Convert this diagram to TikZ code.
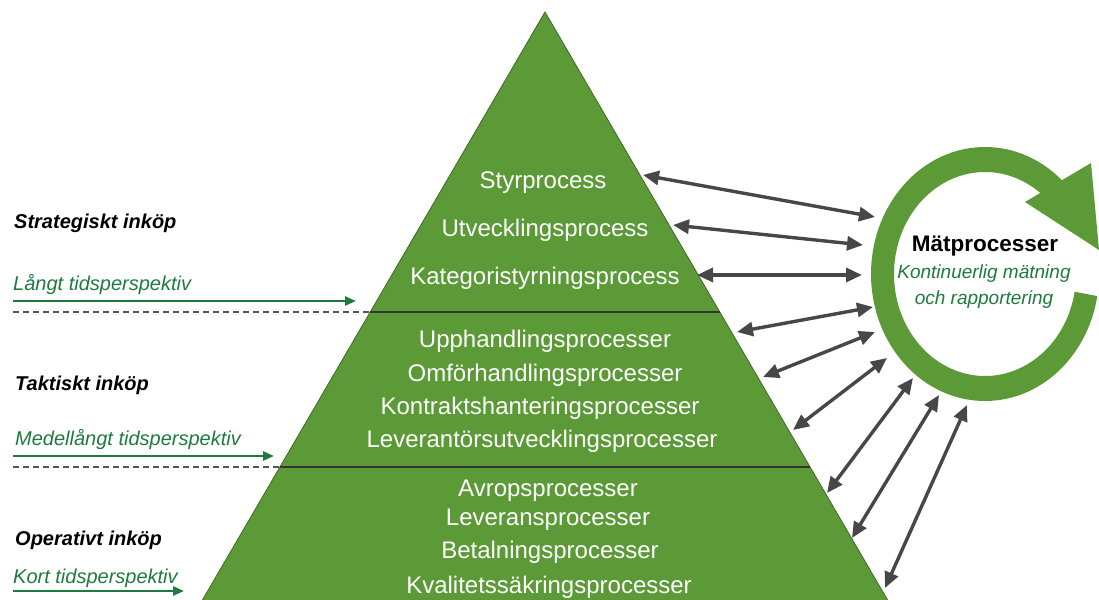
\documentclass[tikz,border=0pt]{standalone}
\usepackage{fontspec}
\setmainfont{Liberation Sans}
\usetikzlibrary{arrows.meta,calc}
\definecolor{leaf}{HTML}{5B9A36}
\definecolor{leafedge}{HTML}{3F6B26}
\definecolor{txtgreen}{HTML}{1E7A3E}
\definecolor{arrowgray}{HTML}{474747}
\definecolor{dashgray}{HTML}{555555}

\tikzset{
  ptext/.style={text=white, font=\fontsize{24}{28}\selectfont, anchor=base, inner sep=0pt},
  lvl/.style={text=black, font=\fontsize{20}{24}\selectfont\bfseries\itshape, anchor=base west, inner sep=0pt},
  horizon/.style={text=txtgreen, font=\fontsize{20}{24}\selectfont\itshape, anchor=base west, inner sep=0pt},
  timearrow/.style={draw=txtgreen, line width=2.5pt, -{Triangle[length=11pt,width=9pt]}},
  levelsep/.style={draw=dashgray, line width=1.2pt, dash pattern=on 6pt off 4pt},
  divider/.style={draw=black!80, line width=1.3pt},
  link/.style={draw=arrowgray, line width=3.4pt, {Triangle[length=16pt,width=14pt]}-{Triangle[length=16pt,width=14pt]}},
}

\begin{document}
\begin{tikzpicture}[x=1pt,y=1pt]
\useasboundingbox (0,0) rectangle (1099,-599);
\clip (0,0) rectangle (1099,-599);

% pyramid
\coordinate (apex) at (545,-12);
\coordinate (bl) at (199.5,-605);
\coordinate (br) at (890.5,-605);
\fill[leaf, draw=leafedge, line width=0.8pt] (apex) -- (br) -- (bl) -- cycle;

% level dividers inside the pyramid
\coordinate (d1l) at (370.2,-312);
\coordinate (d1r) at (719.8,-312);
\coordinate (d2l) at (279.9,-467);
\coordinate (d2r) at (810.1,-467);
\draw[divider] (d1l) -- (d1r);
\draw[divider] (d2l) -- (d2r);

% dashed extensions to the left margin
\coordinate (s1) at (13,-312);
\coordinate (s2) at (13,-467);
\draw[levelsep] (s1) -- (d1l);
\draw[levelsep] (s2) -- (d2l);

% process texts
\node[ptext] (styr) at (543,-188) {Styrprocess};
\node[ptext] (utv) at (545,-236) {Utvecklingsprocess};
\node[ptext] (kat) at (545,-284) {Kategoristyrningsprocess};
\node[ptext] (upph) at (545,-347) {Upphandlingsprocesser};
\node[ptext] (omf) at (545,-381) {Omförhandlingsprocesser};
\node[ptext] (kontr) at (540,-414) {Kontraktshanteringsprocesser};
\node[ptext] (lev) at (542,-447) {Leverantörsutvecklingsprocesser};
\node[ptext] (avr) at (548,-496) {Avropsprocesser};
\node[ptext] (levp) at (548,-525) {Leveransprocesser};
\node[ptext] (bet) at (550,-558) {Betalningsprocesser};
\node[ptext] (kval) at (549,-593) {Kvalitetssäkringsprocesser};

% purchasing levels and time horizons
\node[lvl] (strat) at (14,-228) {Strategiskt inköp};
\node[horizon] (lang) at (13,-290) {Långt tidsperspektiv};
\node[lvl] (takt) at (15,-390) {Taktiskt inköp};
\node[horizon] (medel) at (15,-445) {Medellångt tidsperspektiv};
\node[lvl] (oper) at (15,-545) {Operativt inköp};
\node[horizon] (kort) at (13,-583) {Kort tidsperspektiv};

\coordinate (t1s) at (13,-301);  \coordinate (t1e) at (356,-301);
\coordinate (t2s) at (13,-456);  \coordinate (t2e) at (274,-456);
\coordinate (t3s) at (13,-591);  \coordinate (t3e) at (184,-591);
\draw[timearrow] (t1s) -- (t1e);
\draw[timearrow] (t2s) -- (t2e);
\draw[timearrow] (t3s) -- (t3e);

% circular measurement arrow
\coordinate (ringc) at (985,-274);
\fill[leaf] ($(ringc)+(45:114 and 127)$)
  arc[start angle=45, end angle=350, x radius=114, y radius=127]
  -- ($(ringc)+(350:91 and 102)$)
  arc[start angle=350, end angle=45, x radius=91, y radius=102] -- cycle;
\coordinate (hb1) at (1025,-202);
\coordinate (hb2) at (1091,-163);
\coordinate (htip) at (1099,-250);
\fill[leaf] (hb1) -- (hb2) -- (htip) -- cycle;

\node[text=black, font=\fontsize{22.5}{26}\selectfont\bfseries, anchor=base, inner sep=0pt] (mat) at (985,-251) {Mätprocesser};
\node[text=txtgreen, font=\fontsize{19}{22}\selectfont\itshape, anchor=base, inner sep=0pt] (kont) at (984,-278) {Kontinuerlig mätning};
\node[text=txtgreen, font=\fontsize{19}{22}\selectfont\itshape, anchor=base, inner sep=0pt] (rapp) at (984,-304) {och rapportering};

% links between the pyramid and the measurement cycle
\coordinate (p1) at (643,-175); \coordinate (m1) at (875,-217);
\coordinate (p2) at (673,-225); \coordinate (m2) at (863,-245);
\coordinate (p3) at (697,-275); \coordinate (m3) at (862,-275);
\coordinate (p4) at (737,-332); \coordinate (m4) at (873,-307);
\coordinate (p5) at (763,-377); \coordinate (m5) at (875,-332);
\coordinate (p6) at (793,-430); \coordinate (m6) at (887,-358);
\coordinate (p7) at (827,-493); \coordinate (m7) at (913,-378);
\coordinate (p8) at (852,-538); \coordinate (m8) at (939,-395);
\coordinate (p9) at (885,-588); \coordinate (m9) at (967,-405);
\foreach \i in {1,...,9} {
  \draw[link] (p\i) -- (m\i);
}
\end{tikzpicture}
\end{document}
